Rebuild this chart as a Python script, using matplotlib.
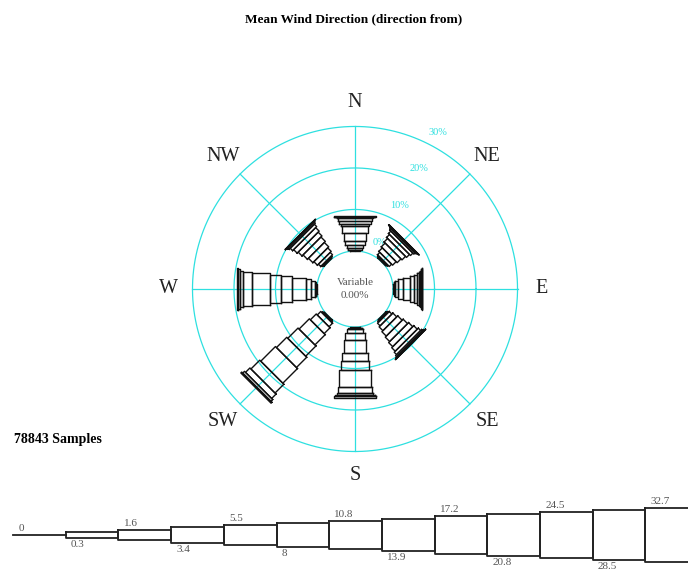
import matplotlib.pyplot as plt
import numpy as np

# wind speed class boundaries (m/s)
speed_bins = [0, 0.3, 1.6, 3.4, 5.5, 8, 10.8, 13.9, 17.2, 20.8, 24.5, 28.5, 32.7]
directions = ["N", "NE", "E", "SE", "S", "SW", "W", "NW"]
bearings = [0, 45, 90, 135, 180, 225, 270, 315]

# percent of samples per speed class, one list per direction
freq_N = [0, 0.3, 0.4, 0.8, 0.9, 2.0, 1.6, 0.6, 0.6, 0.7, 0.3, 0.1, 0.1]
freq_NE = [0, 0.2, 0.3, 0.8, 1.2, 1.3, 1.2, 1.0, 0.8, 0.4, 0.2, 0.1, 0.1]
freq_E = [0, 0.2, 0.3, 0.8, 1.2, 1.5, 1.0, 0.8, 0.5, 0.3, 0.2, 0.1, 0.1]
freq_SE = [0, 0.2, 0.3, 0.9, 1.3, 1.5, 1.5, 1.4, 1.2, 0.8, 0.4, 0.2, 0.1]
freq_S = [0, 0.2, 0.3, 1.0, 1.7, 3.1, 2.0, 2.1, 4.1, 1.4, 0.5, 0.3, 0.3]
freq_SW = [0, 0.2, 0.3, 1.2, 2.0, 3.5, 3.5, 3.5, 5.0, 3.0, 1.5, 0.6, 0.3]
freq_W = [0, 0.2, 0.3, 1.0, 1.2, 3.4, 2.6, 2.7, 4.3, 2.1, 0.8, 0.4, 0.3]
freq_NW = [0, 0.2, 0.3, 0.8, 1.2, 1.5, 1.5, 1.3, 1.2, 0.8, 0.4, 0.2, 0.1]

ring_pcts = [0, 10, 20, 30]
calm_pct = 0.00
n_samples = 78843

freqs = [freq_N, freq_NE, freq_E, freq_SE, freq_S, freq_SW, freq_W, freq_NW]

CYAN = "#2ee0e0"
hole = 9.16        # radius of the 0% ring, in percent units
bar_base = 1.9     # bar width of the slowest class, percent units
bar_w = 0.70       # extra bar width per speed class
serif = ["Liberation Serif", "DejaVu Serif"]

fig = plt.figure(figsize=(6.88, 5.71), dpi=100)

# ---- rose ----
ax = fig.add_axes([0.2144, 0.1305, 0.6032, 0.7268])
ax.set_xlim(-50, 50)
ax.set_ylim(-50, 50)
ax.axis("off")

t = np.linspace(0, 2 * np.pi, 400)
for p in ring_pcts:
    r = hole + p
    ax.plot(r * np.cos(t), r * np.sin(t), color=CYAN, lw=0.9, zorder=1)
    a = np.deg2rad(62)
    ax.text((r + 3.6) * np.cos(a), (r + 3.6) * np.sin(a), f"{p}%",
            color=CYAN, fontsize=7.5, family=serif, ha="center", va="center")

r_out = hole + ring_pcts[-1]
for name, b in zip(directions, bearings):
    a = np.deg2rad(90 - b)
    ax.plot([hole * np.cos(a), r_out * np.cos(a)],
            [hole * np.sin(a), r_out * np.sin(a)], color=CYAN, lw=0.9, zorder=1)
    ax.text(45 * np.cos(a), 45 * np.sin(a), name, fontsize=14.5,
            family=serif, color="#222222", ha="center", va="center")

for vals, b in zip(freqs, bearings):
    a = np.deg2rad(90 - b)
    u = np.array([np.cos(a), np.sin(a)])
    v = np.array([-np.sin(a), np.cos(a)])
    r0 = hole
    for k, f in enumerate(vals):
        r1 = r0 + f
        h = (bar_base + bar_w * k) / 2
        if f > 0 and k > 0:
            pts = np.array([r0 * u + h * v, r1 * u + h * v,
                            r1 * u - h * v, r0 * u - h * v, r0 * u + h * v])
            ax.plot(pts[:, 0], pts[:, 1], color="#111111", lw=1.0, zorder=3)
        r0 = r1

ax.text(0, 0, f"Variable\n{calm_pct:.2f}%", fontsize=8, family=serif,
        color="#555555", ha="center", va="center", linespacing=1.5)

# ---- speed legend ----
lg = fig.add_axes([0, 0, 1, 81 / 571])
lg.set_xlim(-13 / 52.7, 675 / 52.7)
lg.set_ylim(-36, 45)
lg.axis("off")
for k in range(len(speed_bins)):
    h = 0 if k == 0 else 2.2 * k + 1
    if k == 0:
        lg.plot([0, 1], [0, 0], color="#222222", lw=1.3)
    else:
        lg.plot([k, k + 1, k + 1, k, k], [h, h, -h, -h, h],
                color="#222222", lw=1.3)
    lab = f"{speed_bins[k]:g}"
    if k % 2 == 0:
        lg.text(k + 0.1, h + 2, lab, fontsize=8, family=serif,
                color="#555555", ha="left", va="bottom")
    else:
        lg.text(k + 0.1, -h - 2, lab, fontsize=8, family=serif,
                color="#555555", ha="left", va="top")

fig.text(354 / 688, 1 - 19 / 571, "Mean Wind Direction (direction from)",
         fontsize=9.5, weight="bold", family=serif, ha="center", va="center")
fig.text(14 / 688, 1 - 440 / 571, f"{n_samples} Samples", fontsize=10,
         weight="bold", family=serif, ha="left", va="center")

fig.savefig("out.png", dpi=100)
